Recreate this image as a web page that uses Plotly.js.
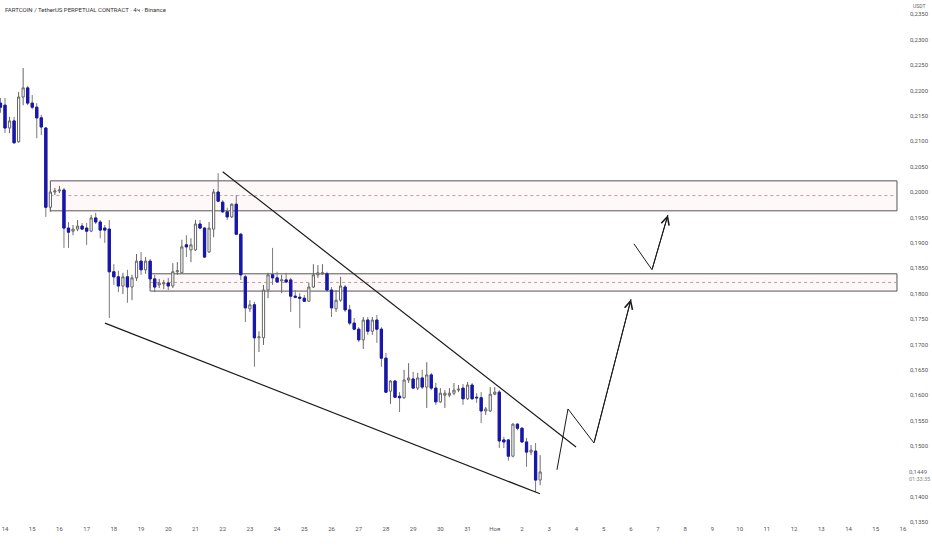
<!DOCTYPE html>
<html><head><meta charset="utf-8">
<script src="https://cdn.plot.ly/plotly-3.0.1.min.js"></script>
<style>html,body{margin:0;padding:0;background:#fff}#chart{width:932px;height:550px}</style>
</head><body><div id="chart"></div>
<script>
// ---- data (4h candles, FARTCOIN/USDT) ----
const firstCandle = "2025-10-13 20:00";
const candleHours = 4;
const openP  = [0.2175,0.2171,0.2126,0.2140,0.2099,0.2187,0.2205,0.2175,0.2167,0.2146,
0.2126,0.1970,0.2000,0.2002,0.2004,0.1929,0.1923,0.1927,0.1933,0.1929,
0.1923,0.1949,0.1941,0.1929,0.1927,0.1843,0.1833,0.1815,0.1833,0.1813,
0.1831,0.1864,0.1847,0.1864,0.1829,0.1817,0.1819,0.1821,0.1815,0.1843,
0.1841,0.1896,0.1886,0.1886,0.1937,0.1929,0.1882,0.1927,0.2000,0.1980,
0.1961,0.1951,0.1976,0.1917,0.1833,0.1770,0.1778,0.1713,0.1713,0.1807,
0.1837,0.1831,0.1825,0.1827,0.1827,0.1795,0.1793,0.1791,0.1785,0.1813,
0.1837,0.1839,0.1839,0.1807,0.1770,0.1787,0.1813,0.1768,0.1742,0.1730,
0.1709,0.1748,0.1726,0.1748,0.1730,0.1673,0.1608,0.1628,0.1598,0.1595,
0.1630,0.1632,0.1614,0.1634,0.1616,0.1640,0.1614,0.1587,0.1600,0.1600,
0.1604,0.1610,0.1614,0.1593,0.1620,0.1596,0.1595,0.1569,0.1569,0.1602,
0.1606,0.1512,0.1512,0.1480,0.1543,0.1535,0.1508,0.1488,0.1490,0.1433];
const highP  = [0.2185,0.2185,0.2148,0.2148,0.2197,0.2244,0.2209,0.2191,0.2175,0.2152,
0.2128,0.2004,0.2008,0.2012,0.2008,0.1941,0.1935,0.1945,0.1939,0.1939,
0.1955,0.1959,0.1945,0.1935,0.1945,0.1858,0.1845,0.1841,0.1847,0.1837,
0.1878,0.1882,0.1872,0.1868,0.1837,0.1829,0.1827,0.1831,0.1860,0.1862,
0.1906,0.1915,0.1909,0.1945,0.1945,0.1931,0.1941,0.2006,0.2037,0.1984,
0.1969,0.1978,0.1994,0.1919,0.1837,0.1787,0.1784,0.1726,0.1817,0.1841,
0.1890,0.1843,0.1837,0.1841,0.1831,0.1807,0.1801,0.1797,0.1821,0.1858,
0.1856,0.1858,0.1843,0.1813,0.1807,0.1833,0.1817,0.1778,0.1752,0.1734,
0.1754,0.1754,0.1754,0.1758,0.1734,0.1683,0.1630,0.1630,0.1606,0.1650,
0.1663,0.1646,0.1644,0.1650,0.1665,0.1644,0.1624,0.1614,0.1610,0.1614,
0.1624,0.1620,0.1622,0.1626,0.1624,0.1604,0.1606,0.1577,0.1616,0.1616,
0.1610,0.1518,0.1514,0.1545,0.1545,0.1537,0.1516,0.1502,0.1506,0.1482];
const lowP   = [0.2156,0.2116,0.2116,0.2095,0.2097,0.2171,0.2171,0.2163,0.2106,0.2112,
0.1951,0.1961,0.1994,0.1998,0.1890,0.1890,0.1915,0.1923,0.1925,0.1896,
0.1921,0.1937,0.1909,0.1900,0.1752,0.1817,0.1803,0.1799,0.1782,0.1787,
0.1825,0.1837,0.1839,0.1811,0.1803,0.1811,0.1809,0.1807,0.1811,0.1837,
0.1839,0.1872,0.1862,0.1884,0.1927,0.1870,0.1880,0.1911,0.1980,0.1959,
0.1945,0.1949,0.1915,0.1827,0.1744,0.1764,0.1656,0.1685,0.1699,0.1791,
0.1817,0.1821,0.1801,0.1821,0.1764,0.1791,0.1732,0.1784,0.1784,0.1811,
0.1831,0.1837,0.1803,0.1754,0.1764,0.1784,0.1764,0.1738,0.1728,0.1705,
0.1691,0.1719,0.1719,0.1703,0.1656,0.1604,0.1583,0.1595,0.1567,0.1593,
0.1624,0.1612,0.1610,0.1612,0.1575,0.1610,0.1581,0.1585,0.1575,0.1596,
0.1600,0.1606,0.1581,0.1591,0.1591,0.1585,0.1545,0.1561,0.1567,0.1600,
0.1496,0.1496,0.1471,0.1478,0.1531,0.1506,0.1459,0.1482,0.1409,0.1423];
const closeP = [0.2167,0.2126,0.2140,0.2097,0.2187,0.2205,0.2175,0.2167,0.2146,0.2128,
0.1970,0.2000,0.2002,0.2004,0.1929,0.1921,0.1927,0.1933,0.1927,0.1923,
0.1949,0.1941,0.1925,0.1925,0.1843,0.1833,0.1815,0.1833,0.1813,0.1831,
0.1864,0.1847,0.1864,0.1829,0.1813,0.1821,0.1821,0.1815,0.1843,0.1845,
0.1892,0.1892,0.1896,0.1937,0.1929,0.1872,0.1929,0.2000,0.1982,0.1961,
0.1951,0.1976,0.1917,0.1837,0.1772,0.1778,0.1713,0.1715,0.1807,0.1837,
0.1831,0.1823,0.1827,0.1823,0.1795,0.1793,0.1791,0.1785,0.1813,0.1837,
0.1841,0.1841,0.1807,0.1772,0.1787,0.1815,0.1768,0.1742,0.1730,0.1709,
0.1748,0.1726,0.1748,0.1730,0.1673,0.1606,0.1628,0.1596,0.1595,0.1630,
0.1634,0.1614,0.1634,0.1616,0.1640,0.1614,0.1587,0.1604,0.1604,0.1604,
0.1610,0.1612,0.1593,0.1620,0.1593,0.1595,0.1569,0.1573,0.1602,0.1606,
0.1510,0.1508,0.1480,0.1543,0.1535,0.1508,0.1488,0.1492,0.1433,0.1449];

// zones (drawn rectangles) : [start time, top, mid, bottom]
const zoneStart = ["2025-10-15 16:00", "2025-10-19 08:00"];
const zoneTop   = [0.2022, 0.1839];
const zoneMid   = [0.1993, 0.1822];
const zoneBot   = [0.1963, 0.1805];
const zoneEnd   = "2025-11-15 18:45";

// trend lines
const upperLineX = ["2025-10-22 00:00", "2025-11-03 23:40"];
const upperLineY = [0.2040, 0.1498];
const lowerLineX = ["2025-10-17 16:10", "2025-11-02 15:50"];
const lowerLineY = [0.1742, 0.1406];

// projected path arrows
const path1X = ["2025-11-03 06:50", "2025-11-03 16:35", "2025-11-04 15:30", "2025-11-06 00:10"];
const path1Y = [0.1453, 0.1573, 0.1506, 0.1789];
const path2X = ["2025-11-06 02:45", "2025-11-06 18:40", "2025-11-07 08:45"];
const path2Y = [0.1898, 0.1847, 0.1955];

// axes
const xRange = ["2025-10-13 19:35", "2025-11-16 01:50"];
const yRange = [0.13465, 0.2378];
const tickDates = ["2025-10-14","2025-10-15","2025-10-16","2025-10-17","2025-10-18","2025-10-19","2025-10-20",
"2025-10-21","2025-10-22","2025-10-23","2025-10-24","2025-10-25","2025-10-26","2025-10-27","2025-10-28",
"2025-10-29","2025-10-30","2025-10-31","2025-11-01","2025-11-02","2025-11-03","2025-11-04","2025-11-05",
"2025-11-06","2025-11-07","2025-11-08","2025-11-09","2025-11-10","2025-11-11","2025-11-12","2025-11-13",
"2025-11-14","2025-11-15","2025-11-16"];
const tickLabels = ["14","15","16","17","18","19","20","21","22","23","24","25","26","27","28","29","30","31",
"Ноя","2","3","4","5","6","7","8","9","10","11","12","13","14","15","16"];
const yTicks = [0.2350,0.2300,0.2250,0.2200,0.2150,0.2100,0.2050,0.2000,0.1950,0.1900,0.1850,0.1800,
0.1750,0.1700,0.1650,0.1600,0.1550,0.1500,0.1400,0.1350];
const yTickLabels = yTicks.map(v => v.toFixed(4).replace(".", ","));
const lastPrice = 0.1449;
const lastPriceLabel = "0,1449";
const countdown = "01:33:35";
const titleText = "FARTCOIN / TetherUS PERPETUAL CONTRACT · 4ч · Binance";

// ---- build ----
function pad(n){return (n<10?"0":"")+n;}
const t0 = new Date(firstCandle.replace(" ","T")+":00Z").getTime();
const times = openP.map((_, i) => {
  const d = new Date(t0 + i*candleHours*3600000);
  return d.getUTCFullYear()+"-"+pad(d.getUTCMonth()+1)+"-"+pad(d.getUTCDate())+" "+pad(d.getUTCHours())+":00";
});

const BLUE = "#1616b0", WICK = "#7a7a7a", OUT = "#666666";
const downIdx = openP.map((o,i)=> closeP[i] < o ? i : -1).filter(i=>i>=0);

const traces = [
  {type:"candlestick", x:times, open:openP, high:highP, low:lowP, close:closeP,
   increasing:{line:{color:OUT,width:1}, fillcolor:"#ffffff"},
   decreasing:{line:{color:WICK,width:1}, fillcolor:BLUE},
   whiskerwidth:0, hoverinfo:"skip", showlegend:false},
  {type:"candlestick", x:downIdx.map(i=>times[i]), open:downIdx.map(i=>openP[i]),
   high:downIdx.map(i=>openP[i]), low:downIdx.map(i=>closeP[i]), close:downIdx.map(i=>closeP[i]),
   increasing:{line:{color:BLUE,width:1}, fillcolor:BLUE},
   decreasing:{line:{color:BLUE,width:1}, fillcolor:BLUE},
   whiskerwidth:0, hoverinfo:"skip", showlegend:false},
  {type:"scatter", mode:"lines", x:upperLineX, y:upperLineY, line:{color:"#1a1a1a", width:1.2}, hoverinfo:"skip", showlegend:false},
  {type:"scatter", mode:"lines", x:lowerLineX, y:lowerLineY, line:{color:"#1a1a1a", width:1.2}, hoverinfo:"skip", showlegend:false},
  {type:"scatter", mode:"lines", x:path1X, y:path1Y, line:{color:"#1a1a1a", width:1}, hoverinfo:"skip", showlegend:false},
  {type:"scatter", mode:"lines", x:path2X, y:path2Y, line:{color:"#1a1a1a", width:1}, hoverinfo:"skip", showlegend:false}
];

const shapes = [];
zoneStart.forEach((s, k) => {
  shapes.push({type:"rect", xref:"x", yref:"y", x0:s, x1:zoneEnd, y0:zoneBot[k], y1:zoneTop[k],
    fillcolor:"rgba(240,130,110,0.05)", line:{color:"#555555", width:1}, layer:"below"});
  shapes.push({type:"line", xref:"x", yref:"y", x0:s, x1:zoneEnd, y0:zoneMid[k], y1:zoneMid[k],
    line:{color:"#b8a0a0", width:1, dash:"3px,3px"}, layer:"below"});
});

const annotations = [
  {xref:"paper", yref:"paper", x:0, y:1, xanchor:"left", yanchor:"top", xshift:3, yshift:-4,
   text:titleText, showarrow:false, font:{family:"Roboto, Arial, sans-serif", size:6, color:"#333"}},
  {xref:"paper", yref:"paper", x:1, y:1, xanchor:"left", yanchor:"top", xshift:6, yshift:-1,
   text:"USDT", showarrow:false, font:{family:"Roboto, Arial, sans-serif", size:5, color:"#666"}},
  {xref:"paper", yref:"y", x:1, y:lastPrice, xanchor:"left", yanchor:"middle", xshift:2,
   text:lastPriceLabel, showarrow:false, font:{family:"Roboto, Arial, sans-serif", size:6, color:"#666"}},
  {xref:"paper", yref:"y", x:1, y:lastPrice, xanchor:"left", yanchor:"middle", xshift:2, yshift:-7,
   text:countdown, showarrow:false, font:{family:"Roboto, Arial, sans-serif", size:5.5, color:"#888"}},
  {xref:"x", yref:"y", axref:"x", ayref:"y", x:path1X[3], y:path1Y[3], ax:path1X[2], ay:path1Y[2],
   showarrow:true, arrowhead:5, arrowsize:1.6, arrowwidth:1, arrowcolor:"#1a1a1a", text:""},
  {xref:"x", yref:"y", axref:"x", ayref:"y", x:path2X[2], y:path2Y[2], ax:path2X[1], ay:path2Y[1],
   showarrow:true, arrowhead:5, arrowsize:1.6, arrowwidth:1, arrowcolor:"#1a1a1a", text:""}
];

const layout = {
  width:932, height:550, margin:{l:0, r:27, t:0, b:26},
  paper_bgcolor:"#ffffff", plot_bgcolor:"#ffffff", showlegend:false,
  separators:", ",
  xaxis:{type:"date", range:xRange, tickmode:"array", tickvals:tickDates, ticktext:tickLabels,
    showgrid:false, zeroline:false, showline:false, ticks:"", rangeslider:{visible:false},
    tickfont:{family:"Roboto, Arial, sans-serif", size:6, color:"#555"}, fixedrange:true},
  yaxis:{side:"right", range:yRange, tickmode:"array", tickvals:yTicks, ticktext:yTickLabels,
    showgrid:false, zeroline:false, showline:false, ticks:"", ticklabelstandoff:4,
    tickfont:{family:"Roboto, Arial, sans-serif", size:6, color:"#555"}, fixedrange:true},
  shapes:shapes, annotations:annotations
};

Plotly.newPlot("chart", traces, layout, {displayModeBar:false, staticPlot:true});
</script>
</body></html>
